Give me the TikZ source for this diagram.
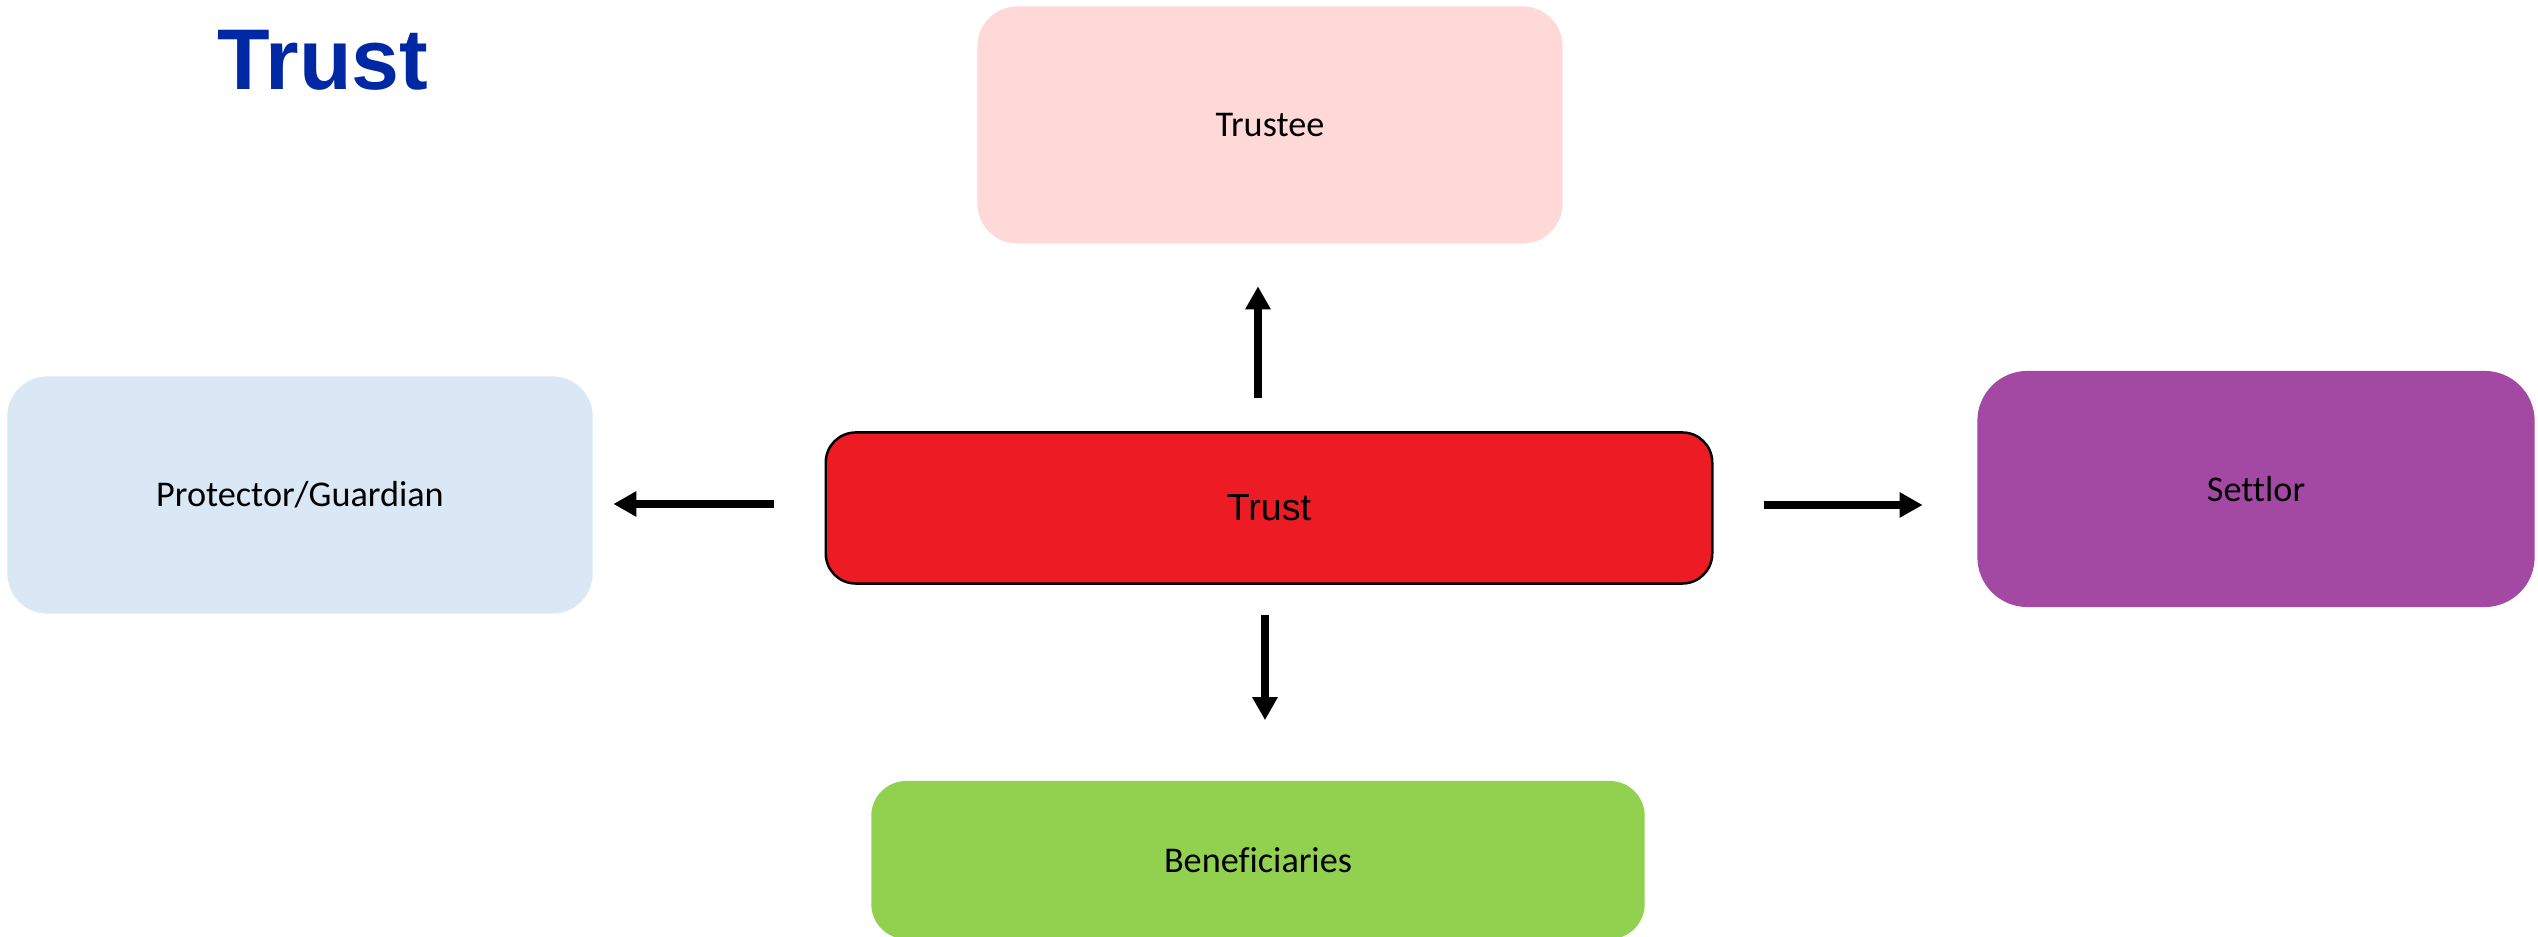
\documentclass[tikz,border=0pt]{standalone}
\usepackage{fontspec}
\usepackage{tikz}
\usepackage{xcolor}
\usetikzlibrary{arrows.meta}
\setmainfont[Ligatures=NoCommon]{Carlito}
\newfontfamily\arialfont{Liberation Sans}
\definecolor{trusteepink}{RGB}{255,216,216}
\definecolor{guardblue}{RGB}{218,232,245}
\definecolor{trustred}{RGB}{237,28,36}
\definecolor{settlorpurple}{RGB}{163,73,164}
\definecolor{benefgreen}{RGB}{146,208,80}
\definecolor{titleblue}{RGB}{0,40,163}

\begin{document}
\begin{tikzpicture}[x=0.01cm,y=-0.01cm,
  box_node/.style={rectangle,inner sep=0pt,font=\fontsize{10.3}{12}\selectfont},
  flow_arrow/.style={line width=0.08cm,-{Triangle[width=0.24cm,length=0.23cm]}}]

\useasboundingbox (0,0) rectangle (2538,937);

\node[anchor=base,text=titleblue,font=\arialfont\bfseries\fontsize{24.5}{28}\selectfont] (title) at (323,90) {Trust};

\node[box_node,fill=trusteepink,rounded corners=0.4cm,minimum width=5.85cm,minimum height=2.37cm] (trustee) at (1270,125) {Trustee};
\node[box_node,fill=guardblue,rounded corners=0.4cm,minimum width=5.85cm,minimum height=2.37cm] (guardian) at (300,495) {Protector/Guardian};
\node[box_node,fill=trustred,draw=black,line width=0.7pt,rounded corners=0.3cm,minimum width=8.86cm,minimum height=1.51cm,font=\arialfont\fontsize{10.7}{13}\selectfont] (trust) at (1269,508) {Trust};
\node[box_node,fill=settlorpurple,rounded corners=0.5cm,minimum width=5.57cm,minimum height=2.36cm] (settlor) at (2256,489) {Settlor};
\node[box_node,fill=benefgreen,rounded corners=0.35cm,minimum width=7.73cm,minimum height=1.58cm] (benef) at (1258,860) {Beneficiaries};

\draw[flow_arrow,shorten <=0.33cm,shorten >=0.42cm] ([xshift=-0.11cm]trust.north) -- ([xshift=-0.11cm]trust.north |- trustee.south);
\draw[flow_arrow,shorten <=0.30cm,shorten >=0.60cm] ([xshift=-0.04cm]trust.south) -- ([xshift=-0.04cm]trust.south |- benef.north);
\draw[flow_arrow,shorten <=0.50cm,shorten >=0.20cm] ([yshift=0.04cm]trust.west) -- ([yshift=0.04cm]trust.west -| guardian.east);
\draw[flow_arrow,shorten <=0.50cm,shorten >=0.54cm] ([yshift=0.03cm]trust.east) -- ([yshift=0.03cm]trust.east -| settlor.west);

\end{tikzpicture}
\end{document}
